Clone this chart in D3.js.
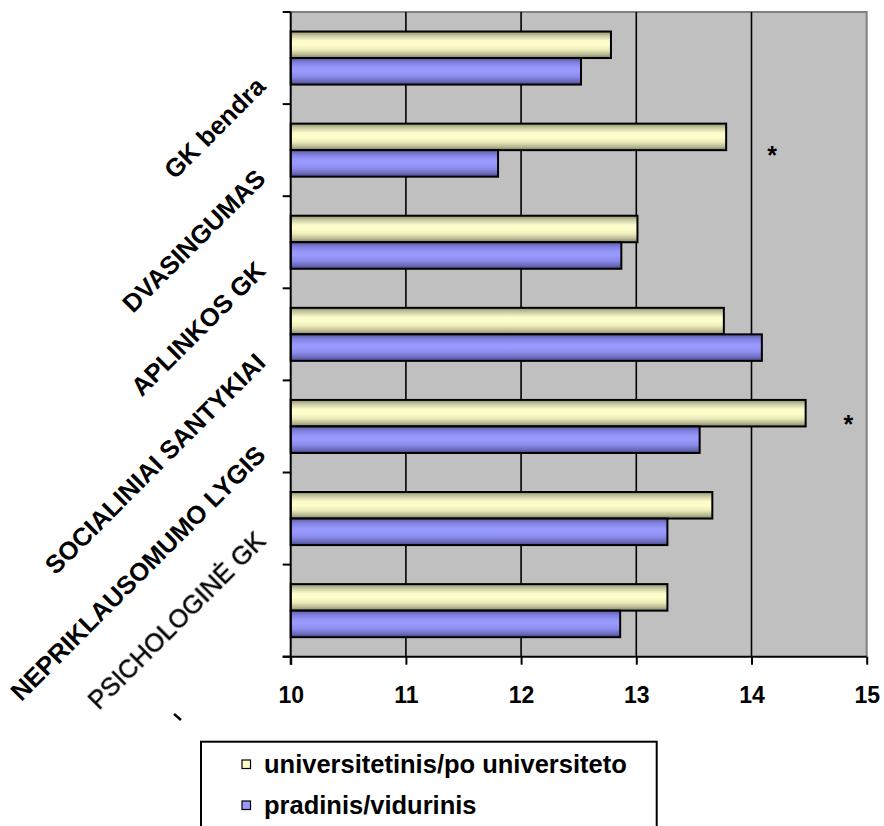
<!DOCTYPE html>
<html>
<head>
<meta charset="utf-8">
<script src="https://cdn.jsdelivr.net/npm/d3@7"></script>
<style>
  html, body { margin: 0; padding: 0; background: #fff; }
  svg { display: block; }
  text { font-family: Arial, "Liberation Sans", sans-serif; }
</style>
</head>
<body>
<svg id="chart" width="884" height="826"></svg>
<script>
// Category names, listed top to bottom
const categories = [
  "GK bendra",
  "DVASINGUMAS",
  "APLINKOS GK",
  "SOCIALINIAI SANTYKIAI",
  "NEPRIKLAUSOMUMO LYGIS",
  "PSICHOLOGINĖ GK",
  ""
];

// Series names (legend order)
const seriesNames = ["universitetinis/po universiteto", "pradinis/vidurinis"];

// Mean scores per category
const universitetinis = [12.78, 13.78, 13.01, 13.76, 14.47, 13.66, 13.27];
const pradinis        = [12.52, 11.80, 12.87, 14.09, 13.55, 13.27, 12.86];

// X axis ticks
const xTicks = [10, 11, 12, 13, 14, 15];

// Significance markers: category and horizontal value where the star sits
const sigCategories = ["DVASINGUMAS", "NEPRIKLAUSOMUMO LYGIS"];
const sigValues = [14.18, 14.84];

const svg = d3.select("#chart");

const plot = { left: 290.7, right: 866.7, top: 12, bottom: 656.7 };

const x = d3.scaleLinear().domain([10, 15]).range([plot.left, plot.right]);
const y = d3.scaleBand().domain(categories)
  .range([plot.top, plot.bottom])
  .paddingInner(0.424).paddingOuter(0.212);
const ySeries = d3.scaleBand().domain(seriesNames).range([0, y.bandwidth()]);

// Gradients giving the bars their rounded look
const defs = svg.append("defs");
function grad(id, stops) {
  const g = defs.append("linearGradient").attr("id", id)
    .attr("x1", 0).attr("y1", 0).attr("x2", 0).attr("y2", 1);
  stops.forEach(([o, c]) => g.append("stop").attr("offset", o).attr("stop-color", c));
}
grad("gYellow", [[0, "#8e8e70"], [0.15, "#c8c8a0"], [0.35, "#fbfbcb"], [0.5, "#ffffcc"],
                 [0.7, "#eaeab8"], [0.88, "#b4b490"], [1, "#808066"]]);
grad("gBlue", [[0, "#5a5aa8"], [0.15, "#7c7cd8"], [0.35, "#9797fb"], [0.5, "#9999ff"],
               [0.7, "#8a8ae8"], [0.88, "#6a6ab8"], [1, "#44448a"]]);
const fills = { [seriesNames[0]]: "url(#gYellow)", [seriesNames[1]]: "url(#gBlue)" };
const legendFills = { [seriesNames[0]]: "#ffffcc", [seriesNames[1]]: "#9999ff" };

const blur = defs.append("filter").attr("id", "soft")
  .attr("x", "-5%").attr("y", "-5%").attr("width", "110%").attr("height", "110%");
blur.append("feGaussianBlur").attr("stdDeviation", 0.45);

// Plot background
svg.append("rect")
  .attr("x", plot.left).attr("y", plot.top)
  .attr("width", plot.right - plot.left).attr("height", plot.bottom - plot.top)
  .attr("fill", "#c0c0c0");

// Top and right frame
svg.append("path")
  .attr("d", `M${plot.left},${plot.top}H${plot.right}V${plot.bottom}`)
  .attr("fill", "none").attr("stroke", "#808080").attr("stroke-width", 2);

// Vertical gridlines
svg.append("g").selectAll("line")
  .data(xTicks.filter(t => t > 10 && t < 15))
  .join("line")
  .attr("x1", d => x(d)).attr("x2", d => x(d))
  .attr("y1", plot.top).attr("y2", plot.bottom)
  .attr("stroke", "#000").attr("stroke-width", 1.6);

// Bars
const rows = categories.map((c, i) => ({
  cat: c,
  vals: [
    { s: seriesNames[0], v: universitetinis[i] },
    { s: seriesNames[1], v: pradinis[i] }
  ]
}));
const groups = svg.append("g").selectAll("g")
  .data(rows).join("g")
  .attr("transform", d => `translate(0,${y(d.cat)})`);
groups.selectAll("rect")
  .data(d => d.vals).join("rect")
  .attr("x", x(10))
  .attr("y", d => ySeries(d.s))
  .attr("width", d => x(d.v) - x(10))
  .attr("height", ySeries.bandwidth())
  .attr("fill", d => fills[d.s])
  .attr("stroke", "#000").attr("stroke-width", 2);

// Bottom axis
const xAxis = svg.append("g")
  .attr("transform", `translate(0,${plot.bottom})`)
  .call(d3.axisBottom(x).tickValues(xTicks).tickSize(8).tickPadding(22).tickFormat(d3.format("d")));
xAxis.select(".domain").attr("d", `M${plot.left - 8},0H${plot.right}`)
  .attr("stroke", "#000").attr("stroke-width", 2);
xAxis.selectAll(".tick line").attr("stroke", "#000").attr("stroke-width", 2);
xAxis.selectAll(".tick text")
  .attr("font-size", 23).attr("font-weight", "bold").attr("fill", "#000")
  .attr("font-family", "Arial, 'Liberation Sans', sans-serif");

// Left axis with ticks on category boundaries
const boundaries = d3.range(categories.length + 1).map(i => plot.top + i * y.step());
svg.append("line")
  .attr("x1", plot.left).attr("x2", plot.left)
  .attr("y1", plot.top).attr("y2", plot.bottom + 8)
  .attr("stroke", "#000").attr("stroke-width", 2);
svg.append("g").selectAll("line")
  .data(boundaries).join("line")
  .attr("x1", plot.left - 8).attr("x2", plot.left)
  .attr("y1", d => d).attr("y2", d => d)
  .attr("stroke", "#000").attr("stroke-width", 2);

// Rotated category labels
svg.append("g").selectAll("text")
  .data(categories).join("text")
  .attr("transform", d => `translate(267,${y(d) + y.bandwidth() / 2 + (d === "PSICHOLOGINĖ GK" ? 24 : 30)}) rotate(-45)`)
  .attr("text-anchor", "end")
  .attr("font-size", 25.5)
  .attr("font-weight", d => d === "PSICHOLOGINĖ GK" ? "normal" : "bold")
  .attr("fill", "#000")
  .attr("stroke", d => d === "PSICHOLOGINĖ GK" ? "#000" : null)
  .attr("stroke-width", d => d === "PSICHOLOGINĖ GK" ? 0.4 : null)
  .attr("filter", d => d === "PSICHOLOGINĖ GK" ? "url(#soft)" : null)
  .text(d => d);

// Small leftover stroke below the last label
svg.append("line")
  .attr("x1", 174).attr("y1", 714).attr("x2", 181).attr("y2", 720)
  .attr("stroke", "#000").attr("stroke-width", 2.5);

// Significance stars
svg.append("g").selectAll("text")
  .data(sigCategories).join("text")
  .attr("x", (d, i) => x(sigValues[i]))
  .attr("y", (d, i) => y(d) + y.bandwidth() / 2 + (i === 0 ? 14 : 7))
  .attr("text-anchor", "middle")
  .attr("font-size", 25).attr("font-weight", "bold")
  .text("*");

// Legend
const legend = svg.append("g");
legend.append("rect")
  .attr("x", 201).attr("y", 741.7).attr("width", 455.7).attr("height", 120)
  .attr("fill", "#fff").attr("stroke", "#000").attr("stroke-width", 2);
const items = legend.selectAll("g.item")
  .data(seriesNames).join("g").attr("class", "item")
  .attr("transform", (d, i) => `translate(0,${773 + i * 41})`);
items.append("rect")
  .attr("x", 242).attr("y", -13).attr("width", 8.5).attr("height", 8.5)
  .attr("fill", d => legendFills[d]).attr("stroke", "#000").attr("stroke-width", 1.2);
items.append("text")
  .attr("x", 264).attr("y", 0)
  .attr("font-size", 25.5).attr("font-weight", "bold")
  .text(d => d);
</script>
</body>
</html>
